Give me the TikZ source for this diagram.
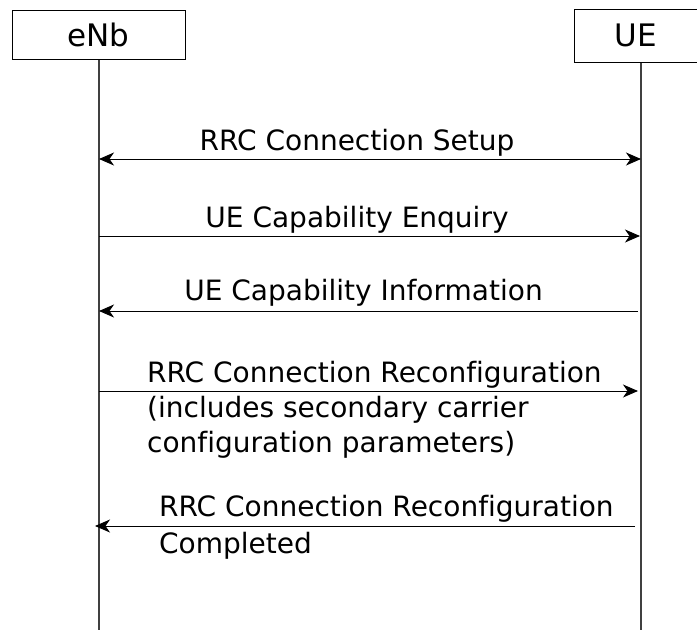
\documentclass[tikz,border=0pt]{standalone}
\usepackage{fontspec}
\setmainfont[RawFeature=-liga]{DejaVu Sans}
\usetikzlibrary{arrows.meta}
\begin{document}
\begin{tikzpicture}[x=1pt,y=-1pt,
  actor/.style={draw=black,line width=1pt,inner sep=0pt,font=\fontsize{31}{36}\selectfont},
  lifeline/.style={draw=black!75,line width=1.3pt},
  msg/.style={line width=1pt,-{Stealth[length=15pt,width=13pt,inset=4.5pt]}},
  dmsg/.style={line width=1pt,{Stealth[length=15pt,width=13pt,inset=4.5pt]}-{Stealth[length=15pt,width=13pt,inset=4.5pt]}},
  lbl/.style={inner sep=0pt,font=\fontsize{28}{35}\selectfont}]
\useasboundingbox (0,0) rectangle (697,630);
\node[actor,minimum width=173pt,minimum height=49pt] (enb) at (98.5,34.5) {eNb};
\node[actor,minimum width=124pt,minimum height=53pt] (ue) at (636,35.5) {UE};
\coordinate (enbEnd) at (99,630);
\coordinate (ueEnd) at (641,630);
\draw[lifeline] (enb.south -| enbEnd) -- (enbEnd);
\draw[lifeline] (ue.south -| ueEnd) -- (ueEnd);
% message 1
\coordinate (a1) at (99,159); \coordinate (b1) at (641,159);
\draw[dmsg] (a1) -- (b1);
\node[lbl,anchor=base] (t1) at (357,150) {RRC Connection Setup};
% message 2
\coordinate (a2) at (99,236); \coordinate (b2) at (640,236);
\draw[msg] (a2) -- (b2);
\node[lbl,anchor=base] (t2) at (357,227) {UE Capability Enquiry};
% message 3
\coordinate (a3) at (99,311); \coordinate (b3) at (638,311);
\draw[msg] (b3) -- (a3);
\node[lbl,anchor=base] (t3) at (363.5,300.5) {UE Capability Information};
% message 4
\coordinate (a4) at (99,391); \coordinate (b4) at (638,391);
\draw[msg] (a4) -- (b4);
\node[lbl,anchor=base west,align=left] (t4) at (147,452.5) {RRC Connection Reconfiguration\\(includes secondary carrier\\configuration parameters)};
% message 5
\coordinate (a5) at (95,526); \coordinate (b5) at (635,526);
\draw[msg] (b5) -- (a5);
\node[lbl,anchor=base west,align=left,font=\fontsize{28}{36.5}\selectfont] (t5) at (159,553) {RRC Connection Reconfiguration\\Completed};
\end{tikzpicture}
\end{document}
